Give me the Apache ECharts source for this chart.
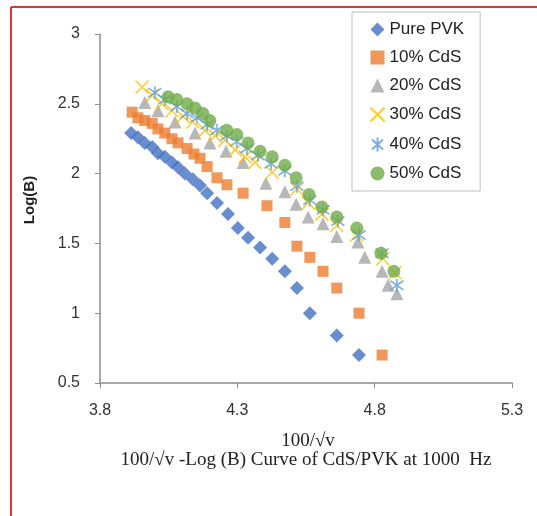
<!DOCTYPE html>
<html>
<head>
<meta charset="utf-8">
<script src="https://cdn.jsdelivr.net/npm/echarts@6/dist/echarts.min.js"></script>
<style>
html, body { margin: 0; padding: 0; background: #fff; }
#chart { width: 537px; height: 516px; }
</style>
</head>
<body>
<div id="chart"></div>
<script>
// x = 100/sqrt(v), y = Log(B)
var xTicks = [3.8, 4.3, 4.8, 5.3];

var xPure = [3.913, 3.938, 3.963, 3.990, 4.011, 4.036, 4.062, 4.084, 4.109, 4.138, 4.164, 4.190, 4.226, 4.266, 4.302, 4.339, 4.383, 4.427, 4.473, 4.517, 4.564, 4.662, 4.743];
var yPure = [2.29, 2.26, 2.22, 2.19, 2.145, 2.12, 2.08, 2.045, 2.0, 1.96, 1.915, 1.86, 1.79, 1.71, 1.61, 1.54, 1.47, 1.39, 1.3, 1.18, 1.0, 0.84, 0.7];

var x10 = [3.917, 3.938, 3.963, 3.990, 4.011, 4.036, 4.062, 4.084, 4.117, 4.142, 4.164, 4.190, 4.226, 4.262, 4.321, 4.408, 4.473, 4.517, 4.564, 4.612, 4.662, 4.743, 4.827];
var y10 = [2.44, 2.4, 2.38, 2.36, 2.32, 2.29, 2.25, 2.22, 2.18, 2.14, 2.11, 2.05, 1.97, 1.92, 1.86, 1.77, 1.65, 1.48, 1.4, 1.3, 1.18, 1.0, 0.7];

var x20 = [3.963, 4.011, 4.073, 4.146, 4.200, 4.259, 4.321, 4.404, 4.473, 4.514, 4.558, 4.612, 4.662, 4.739, 4.764, 4.827, 4.849, 4.881];
var y20 = [2.51, 2.45, 2.37, 2.29, 2.22, 2.16, 2.08, 1.93, 1.87, 1.78, 1.69, 1.64, 1.55, 1.51, 1.4, 1.3, 1.2, 1.14];

var x30 = [3.953, 3.990, 4.026, 4.062, 4.102, 4.138, 4.182, 4.219, 4.255, 4.292, 4.328, 4.364, 4.427, 4.517, 4.558, 4.608, 4.662, 4.735, 4.830, 4.874];
var y30 = [2.62, 2.56, 2.5, 2.45, 2.41, 2.37, 2.31, 2.27, 2.24, 2.17, 2.12, 2.08, 2.01, 1.89, 1.79, 1.71, 1.63, 1.56, 1.39, 1.29];

var x40 = [4.000, 4.036, 4.080, 4.117, 4.153, 4.190, 4.226, 4.262, 4.298, 4.335, 4.375, 4.423, 4.473, 4.517, 4.564, 4.612, 4.666, 4.743, 4.827, 4.881];
var y40 = [2.58, 2.53, 2.48, 2.43, 2.4, 2.35, 2.31, 2.27, 2.23, 2.18, 2.13, 2.07, 2.02, 1.91, 1.81, 1.74, 1.66, 1.56, 1.43, 1.2];

var x50 = [4.048, 4.080, 4.117, 4.146, 4.175, 4.200, 4.262, 4.298, 4.339, 4.383, 4.427, 4.473, 4.514, 4.561, 4.608, 4.662, 4.735, 4.823, 4.870];
var y50 = [2.55, 2.53, 2.5, 2.47, 2.43, 2.38, 2.31, 2.28, 2.22, 2.16, 2.12, 2.06, 1.97, 1.85, 1.76, 1.69, 1.61, 1.43, 1.3];

function pairs(xs, ys) {
    return xs.map(function (x, i) { return [x, ys[i]]; });
}

var crossPath = 'path://M0,0L10,10M10,0L0,10';
var starPath = 'path://M5,0L5,10M1,1.5L9,8.5M9,1.5L1,8.5';

var chart = echarts.init(document.getElementById('chart'));

chart.setOption({
    backgroundColor: '#ffffff',
    animation: false,
    grid: { left: 100, right: 25, top: 34, bottom: 133 },
    legend: {
        orient: 'vertical',
        left: 352,
        top: 12,
        padding: [9, 16, 9, 16],
        itemWidth: 14,
        itemHeight: 14,
        itemGap: 11,
        backgroundColor: '#ffffff',
        borderColor: '#bfbfbf',
        borderWidth: 1,
        borderRadius: 0,
        textStyle: { fontFamily: 'Liberation Sans', fontSize: 17, color: '#222' },
        data: ['Pure PVK', '10% CdS', '20% CdS', '30% CdS', '40% CdS', '50% CdS']
    },
    xAxis: {
        type: 'value',
        min: 3.8,
        max: 5.3,
        axisLine: { onZero: false, lineStyle: { color: '#8c8c8c', width: 1.5 } },
        axisTick: { show: true, length: 5, customValues: xTicks, lineStyle: { color: '#8c8c8c' } },
        axisLabel: { customValues: xTicks, margin: 20, fontFamily: 'Liberation Sans', fontSize: 16, color: '#333',
            formatter: function (v) { return v.toFixed(1); } },
        splitLine: { show: false }
    },
    yAxis: {
        type: 'value',
        min: 0.5,
        max: 3,
        interval: 0.5,
        axisLine: { show: true, lineStyle: { color: '#8c8c8c', width: 1.5 } },
        axisTick: { show: true, length: 5, lineStyle: { color: '#8c8c8c' } },
        axisLabel: { margin: 20, fontFamily: 'Liberation Sans', fontSize: 16, color: '#333' },
        splitLine: { show: false }
    },
    graphic: [
        // red frame: only the top and left edges show in the picture
        { type: 'line', shape: { x1: 11, y1: 7, x2: 537, y2: 7 },
          style: { stroke: '#d9383a', lineWidth: 2 } },
        { type: 'line', shape: { x1: 11, y1: 7, x2: 11, y2: 516 },
          style: { stroke: '#d9383a', lineWidth: 2 } },
        { type: 'text', x: 30, y: 200, rotation: Math.PI / 2,
          style: { text: 'Log(B)', font: 'bold 15px "Liberation Sans"', fill: '#222',
                   textAlign: 'center', textVerticalAlign: 'middle' } },
        { type: 'text', x: 308, y: 441,
          style: { text: '100/\u221Av', font: '19px "Liberation Serif"', fill: '#222',
                   textAlign: 'center', textVerticalAlign: 'middle' } },
        { type: 'text', x: 306, y: 460,
          style: { text: '100/\u221Av -Log (B) Curve of CdS/PVK at 1000  Hz', font: '19px "Liberation Serif"', fill: '#222',
                   textAlign: 'center', textVerticalAlign: 'middle' } }
    ],
    series: [
        { name: 'Pure PVK', type: 'scatter', symbol: 'diamond', symbolSize: 14,
          itemStyle: { color: '#4472c4' }, data: pairs(xPure, yPure) },
        { name: '10% CdS', type: 'scatter', symbol: 'rect', symbolSize: 11,
          itemStyle: { color: '#ed7d31' }, data: pairs(x10, y10) },
        { name: '20% CdS', type: 'scatter', symbol: 'triangle', symbolSize: 13,
          itemStyle: { color: '#a5a5a5' }, data: pairs(x20, y20) },
        { name: '30% CdS', type: 'scatter', symbol: crossPath, symbolSize: 13,
          itemStyle: { color: 'none', borderColor: '#ffc000', borderWidth: 1.6 }, data: pairs(x30, y30) },
        { name: '40% CdS', type: 'scatter', symbol: starPath, symbolSize: 13,
          itemStyle: { color: 'none', borderColor: '#5b9bd5', borderWidth: 1.6 }, data: pairs(x40, y40) },
        { name: '50% CdS', type: 'scatter', symbol: 'circle', symbolSize: 13,
          itemStyle: { color: '#70ad47' }, data: pairs(x50, y50) }
    ]
});
</script>
</body>
</html>
